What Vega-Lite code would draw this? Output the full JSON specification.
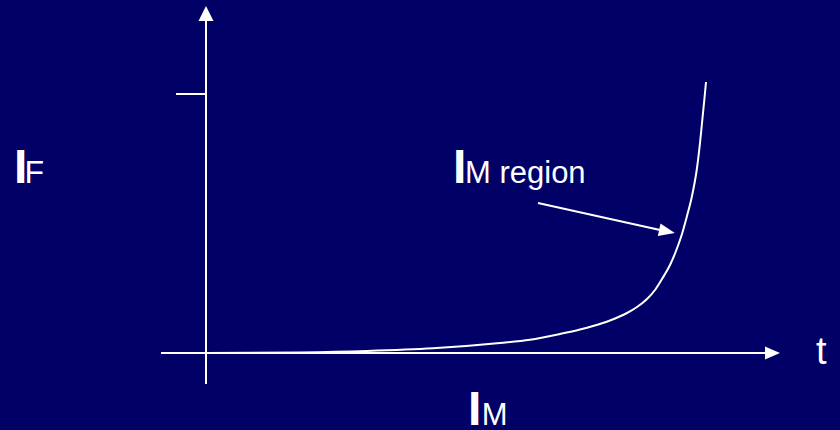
{
  "$schema": "https://vega.github.io/schema/vega-lite/v6.json",
  "width": 840,
  "height": 430,
  "autosize": {"type": "none"},
  "padding": 0,
  "background": "#000066",
  "config": {"view": {"stroke": null}},
  "encoding": {
    "x": {"field": "x", "type": "quantitative", "axis": null, "scale": {"domain": [-206, 634], "nice": false, "zero": false}},
    "y": {"field": "y", "type": "quantitative", "axis": null, "scale": {"domain": [-77, 353], "nice": false, "zero": false}}
  },
  "layer": [
    {
      "data": {"values": [
        {"part": "y axis", "x": 0, "y": -31, "x2": 0, "y2": 333},
        {"part": "x axis", "x": -45, "y": 0, "x2": 560, "y2": 0},
        {"part": "tick", "x": -30, "y": 259, "x2": 0, "y2": 259},
        {"part": "callout", "x": 332, "y": 150, "x2": 454, "y2": 123}
      ]},
      "mark": {"type": "rule", "color": "white", "strokeWidth": 2},
      "encoding": {"x2": {"field": "x2"}, "y2": {"field": "y2"}}
    },
    {
      "data": {"values": [
        {"x": 1, "y": 0}, {"x": 94, "y": 0.6}, {"x": 161, "y": 2}, {"x": 227, "y": 4.7},
        {"x": 294, "y": 10}, {"x": 324, "y": 13.2}, {"x": 354, "y": 19}, {"x": 374, "y": 23.5},
        {"x": 387, "y": 27}, {"x": 404, "y": 32.5}, {"x": 421, "y": 40}, {"x": 431, "y": 46},
        {"x": 441, "y": 54}, {"x": 449, "y": 63}, {"x": 456, "y": 74}, {"x": 464, "y": 88},
        {"x": 470, "y": 102}, {"x": 476, "y": 119}, {"x": 481, "y": 137}, {"x": 486, "y": 157},
        {"x": 491, "y": 185}, {"x": 494, "y": 210}, {"x": 496.5, "y": 235}, {"x": 498.5, "y": 255},
        {"x": 500, "y": 271}
      ]},
      "mark": {"type": "line", "color": "white", "strokeWidth": 2, "interpolate": "monotone"}
    },
    {
      "data": {"values": [{"x": 0, "y": 339.5}]},
      "mark": {"type": "point", "shape": "M0,-1L1,1L-1,1Z", "size": 225, "filled": true, "color": "white", "opacity": 1, "strokeWidth": 0}
    },
    {
      "data": {"values": [{"x": 566.5, "y": 0}]},
      "mark": {"type": "point", "shape": "M1,0L-1,-0.87L-1,0.87Z", "size": 225, "filled": true, "color": "white", "opacity": 1, "strokeWidth": 0}
    },
    {
      "data": {"values": [{"x": 461, "y": 121.7}]},
      "mark": {"type": "point", "shape": "M1,0L-1,-0.8L-1,0.8Z", "size": 256, "angle": 12, "filled": true, "color": "white", "opacity": 1, "strokeWidth": 0}
    },
    {
      "data": {"values": [
        {"label": "I", "x": -192, "y": 170},
        {"label": "I", "x": 247, "y": 170},
        {"label": "I", "x": 262, "y": -72}
      ]},
      "mark": {"type": "text", "align": "left", "baseline": "alphabetic", "font": "Liberation Sans", "fontWeight": "bold", "fontSize": 48, "color": "white"},
      "encoding": {"text": {"field": "label"}}
    },
    {
      "data": {"values": [{"label": "F", "x": -181.6, "y": 170}]},
      "mark": {"type": "text", "align": "left", "baseline": "alphabetic", "font": "Liberation Sans", "fontSize": 32, "color": "white"},
      "encoding": {"text": {"field": "label"}}
    },
    {
      "data": {"values": [
        {"label": "M region", "x": 259, "y": 170},
        {"label": "M", "x": 275.7, "y": -72}
      ]},
      "mark": {"type": "text", "align": "left", "baseline": "alphabetic", "font": "Liberation Sans", "fontSize": 31, "color": "white"},
      "encoding": {"text": {"field": "label"}}
    },
    {
      "data": {"values": [{"label": "t", "x": 610, "y": -11}]},
      "mark": {"type": "text", "align": "left", "baseline": "alphabetic", "font": "Liberation Sans", "fontSize": 38, "color": "white"},
      "encoding": {"text": {"field": "label"}}
    }
  ]
}
